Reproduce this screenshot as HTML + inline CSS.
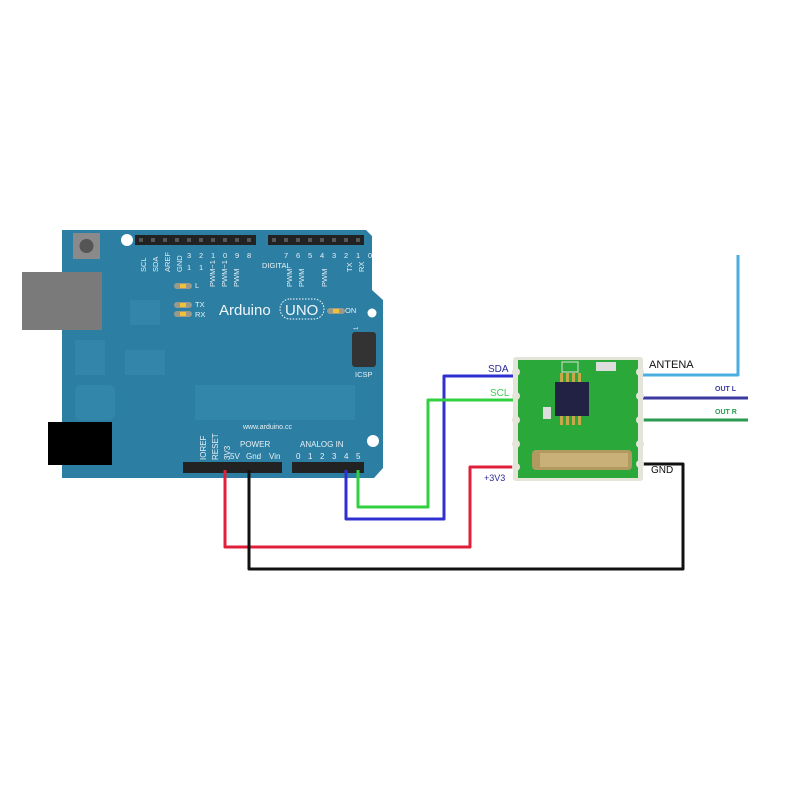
<!DOCTYPE html>
<html><head><style>
html,body{margin:0;padding:0;background:#fff;width:800px;height:800px;overflow:hidden}
svg{display:block}
text{font-family:"Liberation Sans",sans-serif}
</style></head><body>
<svg width="800" height="800" viewBox="0 0 800 800" xmlns="http://www.w3.org/2000/svg">
<!-- Arduino board -->
<path d="M62 230 H366 L372 236 V290 L383 300 V468 L374 478 H62 Z" fill="#2c7fa3"/>
<!-- faint internal shapes -->
<g fill="#3588ab" opacity="0.8">
<rect x="195" y="385" width="160" height="35"/>
<rect x="75" y="340" width="30" height="35"/>
<rect x="125" y="350" width="40" height="25"/>
<rect x="75" y="385" width="40" height="35" rx="6"/>
<rect x="130" y="300" width="30" height="25"/>
</g>
<!-- USB -->
<rect x="22" y="272" width="80" height="58" fill="#7a7a7a"/>
<!-- DC jack -->
<rect x="48" y="422" width="64" height="43" fill="#000"/>
<!-- reset button -->
<rect x="73" y="233" width="27" height="26" fill="#8a8a8a"/>
<circle cx="86.5" cy="246" r="7" fill="#555"/>
<!-- holes -->
<circle cx="127" cy="240" r="6" fill="#fff"/>
<circle cx="372" cy="313" r="4.5" fill="#fff"/>
<circle cx="373" cy="441" r="6" fill="#fff"/>
<!-- headers -->
<g fill="#222">
<rect x="135" y="235" width="121" height="10"/>
<rect x="268" y="235" width="96" height="10"/>
<rect x="183" y="462" width="99" height="11"/>
<rect x="292" y="462" width="72" height="11"/>
</g>
<g fill="#555">
<rect x="139" y="238" width="4" height="4"/><rect x="151" y="238" width="4" height="4"/><rect x="163" y="238" width="4" height="4"/><rect x="175" y="238" width="4" height="4"/><rect x="187" y="238" width="4" height="4"/><rect x="199" y="238" width="4" height="4"/><rect x="211" y="238" width="4" height="4"/><rect x="223" y="238" width="4" height="4"/><rect x="235" y="238" width="4" height="4"/><rect x="247" y="238" width="4" height="4"/>
<rect x="272" y="238" width="4" height="4"/><rect x="284" y="238" width="4" height="4"/><rect x="296" y="238" width="4" height="4"/><rect x="308" y="238" width="4" height="4"/><rect x="320" y="238" width="4" height="4"/><rect x="332" y="238" width="4" height="4"/><rect x="344" y="238" width="4" height="4"/><rect x="356" y="238" width="4" height="4"/>
</g>
<!-- ICSP -->
<rect x="352" y="332" width="24" height="35" rx="3" fill="#333"/>
<!-- pin labels top -->
<g fill="#e8f0f5" font-size="7.5">
<text transform="translate(146,272) rotate(-90)">SCL</text>
<text transform="translate(158,272) rotate(-90)">SDA</text>
<text transform="translate(170,272) rotate(-90)">AREF</text>
<text transform="translate(182,272) rotate(-90)">GND</text>
<text x="187" y="258">3</text><text x="187" y="270">1</text>
<text x="199" y="258">2</text><text x="199" y="270">1</text>
<text x="211" y="258">1</text><text x="223" y="258">0</text><text x="235" y="258">9</text><text x="247" y="258">8</text>
<text transform="translate(215,287) rotate(-90)">PWM~1</text>
<text transform="translate(227,287) rotate(-90)">PWM~1</text>
<text transform="translate(239,287) rotate(-90)">PWM</text>
<text x="262" y="268">DIGITAL</text>
<text x="284" y="258">7</text><text x="296" y="258">6</text><text x="308" y="258">5</text><text x="320" y="258">4</text><text x="332" y="258">3</text><text x="344" y="258">2</text><text x="356" y="258">1</text><text x="368" y="258">0</text>
<text transform="translate(292,287) rotate(-90)">PWM</text>
<text transform="translate(304,287) rotate(-90)">PWM</text>
<text transform="translate(327,287) rotate(-90)">PWM</text>
<text transform="translate(352,272) rotate(-90)">TX</text>
<text transform="translate(364,272) rotate(-90)">RX</text>
<text x="195" y="288">L</text><text x="195" y="307">TX</text><text x="195" y="317">RX</text>
<text x="345" y="313">ON</text>
<text x="355" y="377">ICSP</text>
<text transform="translate(358,330) rotate(-90)" font-size="6">1</text>
<text x="243" y="429" font-size="7">www.arduino.cc</text>
<text x="240" y="447" font-size="8">POWER</text>
<text x="300" y="447" font-size="8">ANALOG IN</text>
<text x="230" y="459" font-size="8">5V</text><text x="246" y="459" font-size="8">Gnd</text><text x="269" y="459" font-size="8">Vin</text>
<text x="296" y="459" font-size="8">0</text><text x="308" y="459" font-size="8">1</text><text x="320" y="459" font-size="8">2</text><text x="332" y="459" font-size="8">3</text><text x="344" y="459" font-size="8">4</text><text x="356" y="459" font-size="8">5</text>
<text transform="translate(206,460) rotate(-90)" font-size="8">IOREF</text>
<text transform="translate(218,460) rotate(-90)" font-size="8">RESET</text>
<text transform="translate(230,460) rotate(-90)" font-size="8">3V3</text>
</g>
<text x="219" y="315" fill="#f0f6fa" font-size="15">Arduino</text>
<rect x="280" y="299" width="44" height="20" rx="10" fill="none" stroke="#fff" stroke-dasharray="1.5,1.5"/>
<text x="285" y="315" fill="#f0f6fa" font-size="15">UNO</text>
<!-- LEDs -->
<g fill="#9a9a8a"><rect x="174" y="283" width="18" height="6" rx="3"/><rect x="174" y="302" width="18" height="6" rx="3"/><rect x="174" y="311" width="18" height="6" rx="3"/><rect x="327" y="308" width="18" height="6" rx="3"/></g>
<g fill="#f2c13a"><rect x="180" y="284" width="6" height="4"/><rect x="180" y="303" width="6" height="4"/><rect x="180" y="312" width="6" height="4"/><rect x="333" y="309" width="6" height="4"/></g>

<!-- wires -->
<g fill="none" stroke-width="3" stroke-linejoin="round">
<polyline points="225,470 225,547 470,547 470,467 520,467" stroke="#e0203a"/>
<polyline points="249,470 249,569 683,569 683,464 638,464" stroke="#111"/>
<polyline points="346,470 346,519 444,519 444,376 520,376" stroke="#3030d0"/>
<polyline points="358,470 358,507 428,507 428,400 520,400" stroke="#30d040"/>
<polyline points="637,375 738,375 738,255" stroke="#4aaee0"/>
<line x1="637" y1="398" x2="748" y2="398" stroke="#3a3aa0"/>
<line x1="637" y1="420" x2="748" y2="420" stroke="#2a9a50"/>
</g>

<!-- module -->
<rect x="513" y="357" width="130" height="124" rx="3" fill="#e4e4d8"/>
<rect x="518" y="360" width="120" height="118" fill="#2aa83a"/>
<g fill="#e4e4d8">
<circle cx="516" cy="372" r="4"/><circle cx="516" cy="396" r="4"/><circle cx="516" cy="420" r="4"/><circle cx="516" cy="444" r="4"/><circle cx="516" cy="467" r="4"/>
<circle cx="640" cy="372" r="4"/><circle cx="640" cy="396" r="4"/><circle cx="640" cy="420" r="4"/><circle cx="640" cy="444" r="4"/><circle cx="640" cy="464" r="4"/>
</g>
<rect x="555" y="382" width="34" height="34" fill="#224"/>
<g fill="#c8a84a"><rect x="560" y="373" width="3" height="9"/><rect x="566" y="373" width="3" height="9"/><rect x="572" y="373" width="3" height="9"/><rect x="578" y="373" width="3" height="9"/><rect x="560" y="416" width="3" height="9"/><rect x="566" y="416" width="3" height="9"/><rect x="572" y="416" width="3" height="9"/><rect x="578" y="416" width="3" height="9"/></g>
<rect x="532" y="450" width="100" height="20" rx="4" fill="#b09a60"/>
<rect x="540" y="453" width="88" height="14" fill="#c8b078"/>
<rect x="596" y="362" width="20" height="9" fill="#ddd"/>
<rect x="562" y="362" width="16" height="10" fill="none" stroke="#ddd"/>
<rect x="543" y="407" width="8" height="12" fill="#ddd"/>

<!-- labels -->
<text x="488" y="372" fill="#2a2a9a" font-size="10">SDA</text>
<text x="490" y="396" fill="#3ad050" font-size="10">SCL</text>
<text x="484" y="481" fill="#2a2a9a" font-size="9">+3V3</text>
<text x="651" y="473" fill="#111" font-size="10">GND</text>
<text x="649" y="368" fill="#111" font-size="11">ANTENA</text>
<text x="715" y="391" fill="#3a3aa0" font-size="7" font-weight="bold">OUT L</text>
<text x="715" y="414" fill="#2a9a50" font-size="7" font-weight="bold">OUT R</text>
</svg>
</body></html>
